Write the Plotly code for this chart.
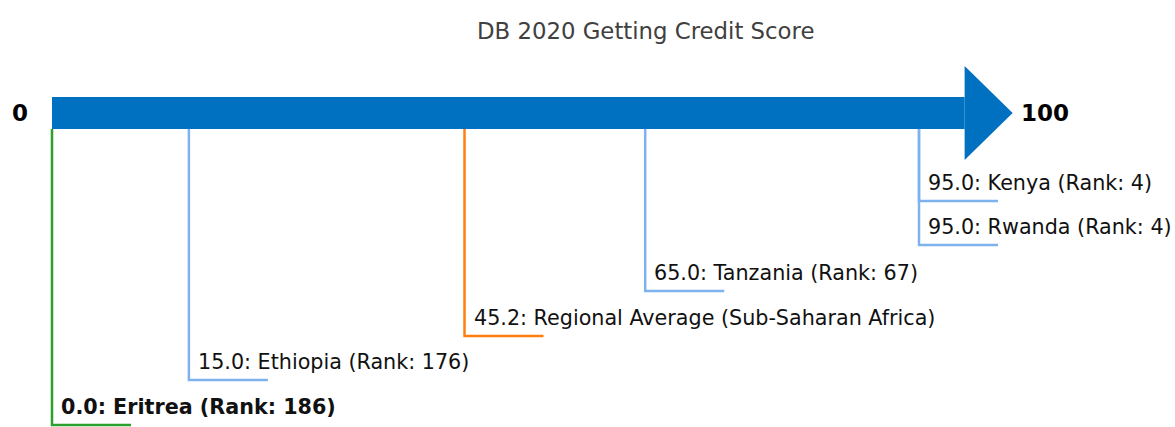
import plotly.graph_objects as go

# Data
labels = ["Eritrea", "Ethiopia", "Regional Average (Sub-Saharan Africa)", "Tanzania", "Rwanda", "Kenya"]
scores = [0.0, 15.0, 45.2, 65.0, 95.0, 95.0]
ranks = [186, 176, None, 67, 4, 4]
kinds = ["lowest", "country", "regional", "country", "country", "country"]
title_text = "DB 2020 Getting Credit Score"
scale_min, scale_max = 0, 100

# Layout (pixel-based y positions)
W, H = 1175, 427
x0_px = 52.0
ppu = (919.0 - 52.0) / 95.0
levels = {"Eritrea": 425, "Ethiopia": 380, "Regional Average (Sub-Saharan Africa)": 336,
          "Tanzania": 291, "Rwanda": 245, "Kenya": 201}
colors = {"lowest": "#2ca02c", "country": "#7eb2ee", "regional": "#ff7f0e"}
arrow_color = "#0070c0"
body_top, body_bot = 97, 129
head_top, head_bot, head_y = 66, 160, 113
tick_len = 79 / ppu

fig = go.Figure()

# arrow body
fig.add_shape(type="rect", x0=scale_min, x1=scale_max, y0=body_top, y1=body_bot,
              xref="x", yref="y", fillcolor=arrow_color, line=dict(width=0), layer="below")
tip_x = scale_max + (1013 - 965) / ppu
fig.add_shape(type="path",
              path=f"M {scale_max},{head_top} L {tip_x},{head_y} L {scale_max},{head_bot} Z",
              xref="x", yref="y", fillcolor=arrow_color, line=dict(width=0), layer="below")

for lab, s, r, k in zip(labels, scores, ranks, kinds):
    lvl = levels[lab]
    c = colors[k]
    fig.add_trace(go.Scatter(x=[s, s, s + tick_len], y=[body_bot, lvl, lvl], mode="lines",
                             line=dict(color=c, width=2.5), hoverinfo="skip", showlegend=False))
    txt = f"{s:.1f}: {lab}" + (f" (Rank: {r})" if r is not None else "")
    if k == "lowest":
        txt = f"<b>{txt}</b>"
    fig.add_annotation(x=s + 7 / ppu, y=lvl - 18.5, text=txt, xref="x", yref="y",
                       xanchor="left", yanchor="middle", showarrow=False,
                       font=dict(family="DejaVu Sans", size=20.7, color="#111111"))

fig.add_annotation(x=scale_min - 32 / ppu, y=head_y, text=f"<b>{scale_min}</b>", xref="x", yref="y",
                   xanchor="center", yanchor="middle", showarrow=False,
                   font=dict(family="DejaVu Sans", size=23, color="#000000"))
fig.add_annotation(x=tip_x + 6 / ppu, y=head_y, text=f"<b>{scale_max}</b>", xref="x", yref="y",
                   xanchor="left", yanchor="middle", showarrow=False,
                   font=dict(family="DejaVu Sans", size=23, color="#000000"))
fig.add_annotation(x=(645 - x0_px) / ppu, y=30.5, text=title_text, xref="x", yref="y",
                   xanchor="center", yanchor="middle", showarrow=False,
                   font=dict(family="DejaVu Sans", size=22.8, color="#404040"))

fig.update_layout(
    width=W, height=H, margin=dict(l=0, r=0, t=0, b=0),
    paper_bgcolor="white", plot_bgcolor="white",
    xaxis=dict(range=[-x0_px / ppu, (W - x0_px) / ppu], visible=False, fixedrange=True),
    yaxis=dict(range=[H, 0], visible=False, fixedrange=True),
)
fig.write_html("out.html")
